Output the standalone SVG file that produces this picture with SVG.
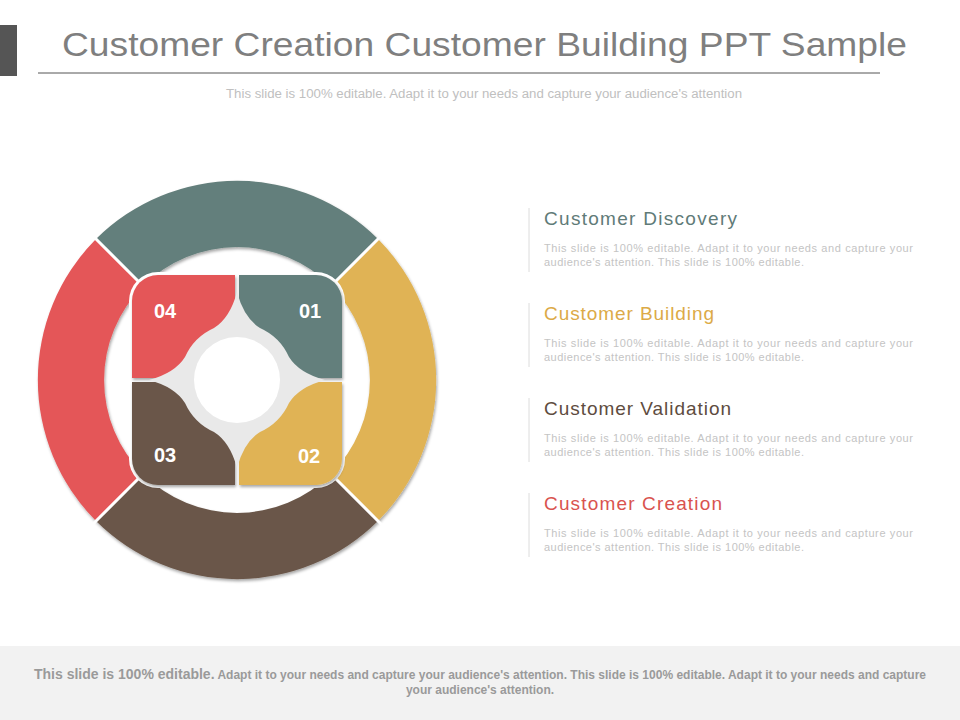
<svg xmlns="http://www.w3.org/2000/svg" width="960" height="720" viewBox="0 0 960 720">
<defs>
<filter id="sh" x="-10%" y="-10%" width="120%" height="120%"><feDropShadow dx="1" dy="2" stdDeviation="1.5" flood-color="#000" flood-opacity="0.35"/></filter>
</defs>
<style>
text{font-family:"Liberation Sans",Arial,sans-serif}
.h{font-size:19px}
.d{font-size:11px;fill:#c4c4c4}
.n{font-size:20px;font-weight:bold;fill:#fff}
.vl{stroke:#dcdcdc;stroke-width:1}
.ft{font-size:12px;fill:#9a9a9a;font-weight:bold}
</style>
<rect width="960" height="720" fill="#fff"/>
<g id="header">
<rect x="0" y="25" width="17" height="51" fill="#555"/>
<text x="62" y="56" font-size="34" fill="#7f7f7f" textLength="845" lengthAdjust="spacingAndGlyphs">Customer Creation Customer Building PPT Sample</text>
<line x1="38" y1="73" x2="880" y2="73" stroke="#555" stroke-width="1"/>
<text x="226" y="98" font-size="12" fill="#c0c0c0" textLength="516" lengthAdjust="spacingAndGlyphs">This slide is 100% editable. Adapt it to your needs and capture your audience's attention</text>
</g>
<g id="ring" filter="url(#sh)">
<g id="seg-top"><path d="M96,239 A200,200 0 0 1 378,239 L331,286 A133,133 0 0 0 143,286 Z" fill="#647f7b"/></g>
<g id="seg-right"><path d="M378,239 A200,200 0 0 1 378,521 L331,474 A133,133 0 0 0 331,286 Z" fill="#e0b354"/></g>
<g id="seg-bottom"><path d="M378,521 A200,200 0 0 1 96,521 L143,474 A133,133 0 0 0 331,474 Z" fill="#6b5749"/></g>
<g id="seg-left"><path d="M96,521 A200,200 0 0 1 96,239 L143,286 A133,133 0 0 0 143,474 Z" fill="#e45759"/></g>
</g>
<g id="gaps" stroke="#fff" stroke-width="3">
<line x1="92" y1="235" x2="147" y2="290"/><line x1="382" y1="235" x2="327" y2="290"/>
<line x1="92" y1="525" x2="147" y2="470"/><line x1="382" y1="525" x2="327" y2="470"/>
</g>
<rect x="129" y="272" width="216" height="216" rx="29" fill="#fff"/>
<g id="square" filter="url(#sh)">
<g id="q01"><path d="M239,275 H316 A26,26 0 0 1 342,301 V378 H239 Z" fill="#647f7b"/></g>
<g id="q02"><path d="M239,382 H342 V459 A26,26 0 0 1 316,485 H239 Z" fill="#e0b354"/></g>
<g id="q03"><path d="M235,382 V485 H158 A26,26 0 0 1 132,459 V382 Z" fill="#6b5749"/></g>
<g id="q04"><path d="M235,378 H132 V301 A26,26 0 0 1 158,275 H235 Z" fill="#e45759"/></g>
</g>
<g id="star">
<path d="M237,292 Q244,318 260,328 A58,58 0 0 1 289,357 Q299,373 325,380 Q299,387 289,403 A58,58 0 0 1 260,432 Q244,442 237,468 Q230,442 214,432 A58,58 0 0 1 185,403 Q175,387 149,380 Q175,373 185,357 A58,58 0 0 1 214,328 Q230,318 237,292 Z" fill="#e9e9e9"/>
<circle cx="237" cy="380" r="43" fill="#fff"/>
</g>
<g id="nums">
<text class="n" x="310" y="318" text-anchor="middle">01</text>
<text class="n" x="309" y="463" text-anchor="middle">02</text>
<text class="n" x="165" y="462" text-anchor="middle">03</text>
<text class="n" x="165" y="318" text-anchor="middle">04</text>
</g>
<g id="item1"><line class="vl" x1="529" y1="208" x2="529" y2="272"/><text class="h" x="544" y="225" fill="#5f7b78" textLength="193">Customer Discovery</text><text class="d" x="544" y="252" textLength="369">This slide is 100% editable. Adapt it to your needs and capture your</text><text class="d" x="544" y="266" textLength="260">audience's attention. This slide is 100% editable.</text></g>
<g id="item2"><line class="vl" x1="529" y1="303" x2="529" y2="367"/><text class="h" x="544" y="320" fill="#dcaa47" textLength="170">Customer Building</text><text class="d" x="544" y="347" textLength="369">This slide is 100% editable. Adapt it to your needs and capture your</text><text class="d" x="544" y="361" textLength="260">audience's attention. This slide is 100% editable.</text></g>
<g id="item3"><line class="vl" x1="529" y1="398" x2="529" y2="462"/><text class="h" x="544" y="415" fill="#5e4c40" textLength="187">Customer Validation</text><text class="d" x="544" y="442" textLength="369">This slide is 100% editable. Adapt it to your needs and capture your</text><text class="d" x="544" y="456" textLength="260">audience's attention. This slide is 100% editable.</text></g>
<g id="item4"><line class="vl" x1="529" y1="493" x2="529" y2="557"/><text class="h" x="544" y="510" fill="#d9534f" textLength="178">Customer Creation</text><text class="d" x="544" y="537" textLength="369">This slide is 100% editable. Adapt it to your needs and capture your</text><text class="d" x="544" y="551" textLength="260">audience's attention. This slide is 100% editable.</text></g>
<g id="footer">
<rect x="0" y="646" width="960" height="74" fill="#f2f2f2"/>
<text x="480" y="679" text-anchor="middle" class="ft"><tspan font-size="14">This slide is 100% editable.</tspan> Adapt it to your needs and capture your audience's attention. This slide is 100% editable. Adapt it to your needs and capture</text>
<text x="480" y="694" text-anchor="middle" class="ft">your audience's attention.</text>
</g>
</svg>
